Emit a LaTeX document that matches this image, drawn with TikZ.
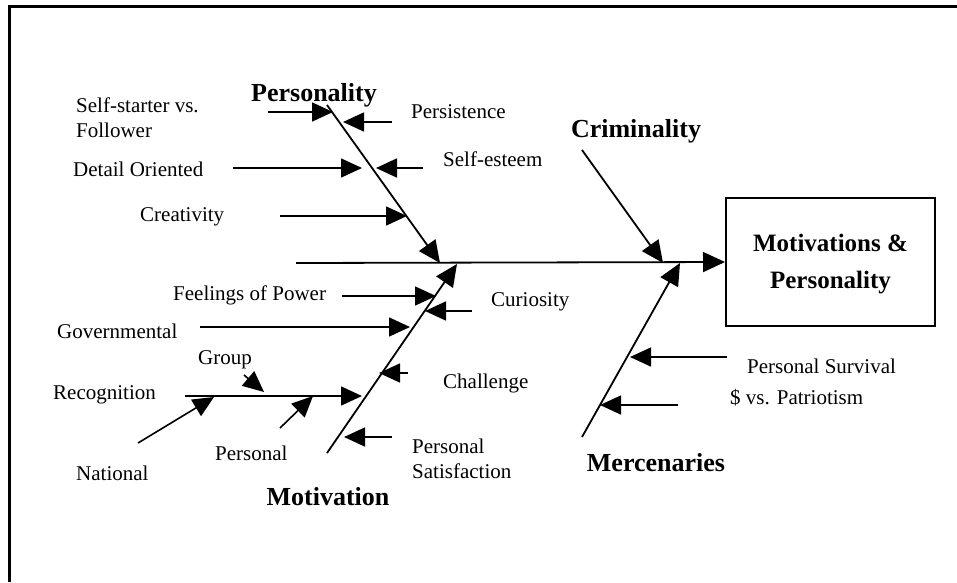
\documentclass[tikz,border=0pt]{standalone}
\usepackage{fontspec}
\setmainfont{Liberation Serif}
\usetikzlibrary{arrows.meta}
\begin{document}
\begin{tikzpicture}[x=1pt,y=-1pt,
  lbl/.style={anchor=west,inner sep=0pt,font=\fontsize{21}{25}\selectfont,align=left},
  head/.style={inner sep=0pt,font=\fontsize{26}{30}\selectfont\bfseries},
  arr/.style={line width=1.6pt,-{Triangle[length=21pt,width=19pt]}},
  bone/.style={line width=1.8pt,-{Triangle[length=22pt,width=20pt]}},
  frame/.style={line width=3pt}]
\useasboundingbox (0,0) rectangle (957,582);
% frame
\coordinate (fr1) at (957,6);
\coordinate (fr2) at (9,6);
\coordinate (fr3) at (9,582);
\draw[frame] (fr1) -- (fr2) -- (fr3);
% effect box
\node[draw,line width=2pt,minimum width=209pt,minimum height=128pt,inner sep=0pt] (box) at (830.5,262) {};
\node[align=center,inner sep=0pt,font=\fontsize{25}{37}\selectfont\bfseries] (boxtxt) at (830.5,264) {Motivations \&\\Personality};
% spine
\coordinate (sp0) at (296,263);
\draw[bone] (sp0) -- (box.west);
% bones
\coordinate (pA) at (327,105); \coordinate (pB) at (440,263);
\coordinate (mA) at (327,453); \coordinate (mB) at (457,264);
\coordinate (cA) at (582,150); \coordinate (cB) at (663,263);
\coordinate (eA) at (582,437); \coordinate (eB) at (680,263);
\draw[bone] (pA) -- (pB);
\draw[bone] (mA) -- (mB);
\draw[bone] (cA) -- (cB);
\draw[bone] (eA) -- (eB);
% headings
\node[head] (hPers) at (314,95) {Personality};
\node[head] (hMot) at (328,497) {Motivation};
\node[head] (hCrim) at (636,131) {Criminality};
\node[head] (hMerc) at (656,463) {Mercenaries};
% personality labels
\node[lbl] (lSelf) at (76,117.5) {Self-starter vs.\\Follower};
\node[lbl] (lDet) at (73,169) {Detail Oriented};
\node[lbl] (lCre) at (140,217) {Creativity};
\node[lbl] (lPer) at (411,112) {Persistence};
\node[lbl] (lEst) at (443,159) {Self-esteem};
% personality arrows
\coordinate (a1s) at (268,112); \coordinate (a1t) at (333,112);
\coordinate (a2s) at (392,122); \coordinate (a2t) at (343,122);
\coordinate (a3s) at (233,168); \coordinate (a3t) at (362,168);
\coordinate (a4s) at (423,168); \coordinate (a4t) at (376,168);
\coordinate (a5s) at (280,216); \coordinate (a5t) at (407,216);
\draw[arr] (a1s) -- (a1t);
\draw[arr] (a2s) -- (a2t);
\draw[arr] (a3s) -- (a3t);
\draw[arr] (a4s) -- (a4t);
\draw[arr] (a5s) -- (a5t);
% motivation labels
\node[lbl] (lFee) at (173,295) {Feelings of Power};
\node[lbl] (lCur) at (491,302) {Curiosity};
\node[lbl] (lGov) at (57,331) {Governmental};
\node[lbl] (lGro) at (198,360) {Group};
\node[lbl] (lCha) at (443,383) {Challenge};
\node[lbl] (lRec) at (53,395) {Recognition};
\node[lbl] (lPsn) at (215,453) {Personal};
\node[lbl] (lNat) at (76,473) {National};
\node[lbl] (lSat) at (412,458.5) {Personal\\Satisfaction};
% motivation arrows
\coordinate (b1s) at (342,296); \coordinate (b1t) at (436,296);
\coordinate (b2s) at (472,311); \coordinate (b2t) at (425,311);
\coordinate (b3s) at (200,327); \coordinate (b3t) at (410,327);
\coordinate (b4s) at (408,373); \coordinate (b4t) at (379,373);
\coordinate (b5s) at (185,396); \coordinate (b5t) at (362,396);
\coordinate (b6s) at (392,437); \coordinate (b6t) at (344,437);
\coordinate (b7s) at (244,375); \coordinate (b7t) at (264,392);
\coordinate (b8s) at (138,443); \coordinate (b8t) at (214,397);
\coordinate (b9s) at (280,428); \coordinate (b9t) at (313,396);
\draw[arr] (b1s) -- (b1t);
\draw[arr] (b2s) -- (b2t);
\draw[arr] (b3s) -- (b3t);
\draw[arr] (b4s) -- (b4t);
\draw[arr] (b5s) -- (b5t);
\draw[arr] (b6s) -- (b6t);
\draw[arr] (b7s) -- (b7t);
\draw[arr] (b8s) -- (b8t);
\draw[arr] (b9s) -- (b9t);
% mercenaries
\node[lbl] (lSur) at (747,366) {Personal Survival};
\node[lbl] (lPat) at (730,398) {\$ vs. Patriotism};
\coordinate (c1s) at (727,357); \coordinate (c1t) at (630,357);
\coordinate (c2s) at (678,405); \coordinate (c2t) at (600,405);
\draw[arr] (c1s) -- (c1t);
\draw[arr] (c2s) -- (c2t);
\end{tikzpicture}
\end{document}
